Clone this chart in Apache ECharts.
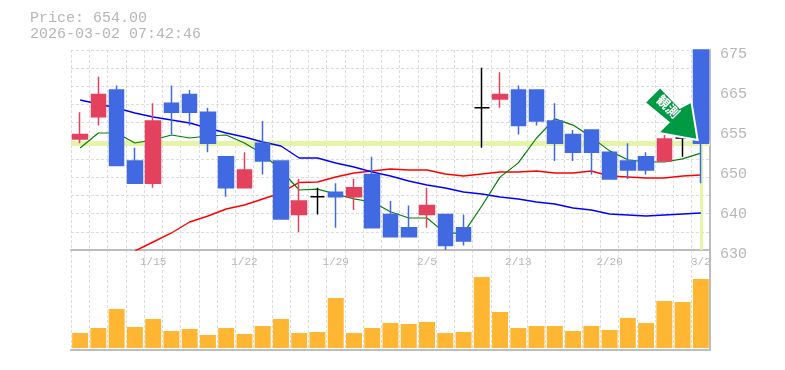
<!DOCTYPE html>
<html><head><meta charset="utf-8">
<style>html,body{margin:0;padding:0;background:#fff}#c{width:785px;height:370px}</style>
<script src="https://cdn.jsdelivr.net/npm/echarts@6/dist/echarts.min.js"></script>
</head><body><div id="c"></div>
<script>
const dates=['1/8','1/9','1/13','1/14','1/15','1/16','1/19','1/20','1/21','1/22','1/23','1/26','1/27','1/28','1/29','1/30','2/2','2/3','2/4','2/5','2/6','2/9','2/10','2/12','2/13','2/16','2/17','2/18','2/19','2/20','2/24','2/25','2/26','2/27','3/2'];
const opens=[655,660,666,650,645,663,665,661,651,644,654,650,638,642,643,642,647,638,635,638,638,635,662,664,666,666,659,656,657,652,650,651,650,655.2,675];
const closes=[656,665,649,645,659,661,661,654,644,648,650,637,641,642,642,644,635,633,633,640,631,632,662,665,658,659,654,652,652,646,648,648,655,655.2,654];
const lows=[654,658,649,645,644,656,658,652,642,644,647,637,634,638,635,639,635,633,633,635,630,631,653,662,656,658,650,650,647,646,646,647,650,651,645];
const highs=[661,669,667,653,663,667,666,662,651,652,659,650,646,644,645,646,651,641,640,644,638,638,671,670,667,666,663,657,657,652,654,652,656,657,675];
const maShort=[652.95,656.33,656.33,654.08,654.75,655.88,655.2,655.65,655.88,654.08,651.6,648,643.5,643.7,642.6,641.5,640.8,638.6,637.2,637.2,633.8,633.8,639.9,646.4,649.6,655.2,659.5,658.1,655.4,652.3,650.3,649.8,649.8,650.5,651.8];
const maMid=[663.75,662.85,661.95,660.83,659.93,659.25,658.58,657.45,656.33,655.43,654.3,653.4,650.7,650.7,649.58,648.68,647.55,646.65,645.53,644.63,643.95,643.05,642.6,641.93,641.48,640.8,640.35,639.45,639,638.1,637.88,637.65,637.88,638.1,638.33];
const maLong=[null,null,null,629.78,631.8,633.83,636.3,637.65,639.23,640.13,641.48,642.83,645.2,645.3,646.43,647.33,647.78,648.23,648,648,647.1,646.65,647.1,647.55,647.55,647.78,647.33,647.33,647.78,646.65,646.43,646.2,646.2,646.65,646.88];
const volumes=[15,20,39,21,29,17,19,13,20,14,22,29,15,16,50,15,20,25,24,26,15,16,71,36,20,22,22,17,22,18,30,25,47,46,69];
const priceTickLabels=['630','640','650','655','665','675'];
const lastPrice=654;
const headerLines=['Price: 654.00','2026-03-02 07:42:46'];
const arrowText='観測';

const RED='#E4415F',BLUE='#4169E1',GRAY='#bdbdbd',GRID='#dcdcdc',LIME='#E4F5A8';
const mono='"Liberation Mono","DejaVu Sans Mono",monospace';
const DASH=[3,2];
const candleColor=i=>opens[i]===closes[i]?'#000':(closes[i]>opens[i]?RED:BLUE);
const candles=dates.map((d,i)=>({value:[opens[i],closes[i],lows[i],highs[i]],itemStyle:{color:candleColor(i),color0:candleColor(i),borderColor:candleColor(i),borderColor0:candleColor(i),borderColorDoji:candleColor(i),borderWidth:1.5}}));
const maLine=(data,color,width)=>({type:'line',data,xAxisIndex:0,yAxisIndex:0,z:2,symbol:'none',smooth:false,silent:true,lineStyle:{color,width},connectNulls:false,clip:true,animation:false});
const arrowPath='path://M660 88L679 108L690 102L696 139L658 132L668 122L645 103Z';

const option={
 animation:false,
 backgroundColor:'#fff',
 title:{text:headerLines.join('\n'),left:30,top:10,padding:0,textStyle:{fontFamily:mono,fontSize:15,fontWeight:'normal',color:'#b6b6b6',lineHeight:16}},
 grid:[{left:71,top:50,width:639,height:200},{left:71,top:250,width:639,height:100}],
 xAxis:[
  {type:'category',gridIndex:0,data:dates,boundaryGap:true,axisLine:{show:true,onZero:false,lineStyle:{color:GRAY,width:2}},axisTick:{show:false},
   axisLabel:{show:true,interval:i=>i%5===4,margin:7,fontFamily:mono,fontSize:11,color:'#b6b6b6'},
   splitLine:{show:true,interval:0,lineStyle:{color:GRID,type:DASH,width:1}}},
  {type:'category',gridIndex:1,data:dates,boundaryGap:true,axisLine:{show:true,onZero:false,lineStyle:{color:GRAY,width:2}},axisTick:{show:false},axisLabel:{show:false},
   splitLine:{show:true,interval:0,lineStyle:{color:GRID,type:DASH,width:1}}}
 ],
 yAxis:[
  {type:'value',gridIndex:0,position:'right',min:630,max:675,interval:9,
   axisLine:{show:true,lineStyle:{color:GRAY,width:2}},axisTick:{show:false},splitLine:{show:false},
   axisLabel:{margin:10,align:'left',verticalAlign:'top',lineHeight:8,fontFamily:mono,fontSize:15,color:'#b6b6b6',formatter:(v)=>priceTickLabels[Math.round((v-630)/9)]}},
  {type:'value',gridIndex:0,position:'left',min:0,max:11,interval:1,axisLine:{show:false},axisTick:{show:false},axisLabel:{show:false},
   splitLine:{show:true,lineStyle:{color:GRID,type:DASH,width:1}}},
  {type:'value',gridIndex:1,position:'right',min:-2,max:98,axisLine:{show:true,lineStyle:{color:GRAY,width:2}},axisTick:{show:false},axisLabel:{show:false},splitLine:{show:false}}
 ],
 series:[
  {type:'line',data:[],xAxisIndex:0,yAxisIndex:0,z:1,silent:true,
   markLine:{silent:true,symbol:'none',z:1,animation:false,label:{show:false},
    data:[
     [{coord:[0,lastPrice],x:71,lineStyle:{color:LIME,width:5,type:'solid'}},{coord:[dates.length-1,lastPrice],x:710}],
     [{coord:[dates.length-1,lastPrice],lineStyle:{color:LIME,width:3,type:'solid'}},{coord:[dates.length-1,630]}]
    ]}},
  maLine(maLong,'#ff0000',1.4),
  maLine(maMid,'#0000ff',1.4),
  maLine(maShort,'#008000',1.2),
  {type:'candlestick',xAxisIndex:0,yAxisIndex:0,z:3,data:candles,barWidth:15,clip:true,silent:true},
  {type:'bar',xAxisIndex:1,yAxisIndex:2,data:volumes,barWidth:16,itemStyle:{color:'#FFB733'},silent:true},
  {type:'line',data:[],xAxisIndex:0,yAxisIndex:0,z:10,silent:true,
   markPoint:{z:20,silent:true,animation:false,data:[{
     coord:[33,660.7],symbol:arrowPath,symbolSize:[53,53],symbolKeepAspect:false,symbolOffset:[-11.5,0],
     itemStyle:{color:'#009944',borderColor:'#fff',borderWidth:2},
     label:{show:true,formatter:arrowText,position:'inside',rotate:-45,offset:[-7,-3],color:'#fff',fontSize:13,fontWeight:'bold',fontFamily:'"Noto Sans CJK JP"'}
   }]}}
 ]
};
const chart=echarts.init(document.getElementById('c'),null,{renderer:'canvas',width:785,height:370});
chart.setOption(option);
</script></body></html>
